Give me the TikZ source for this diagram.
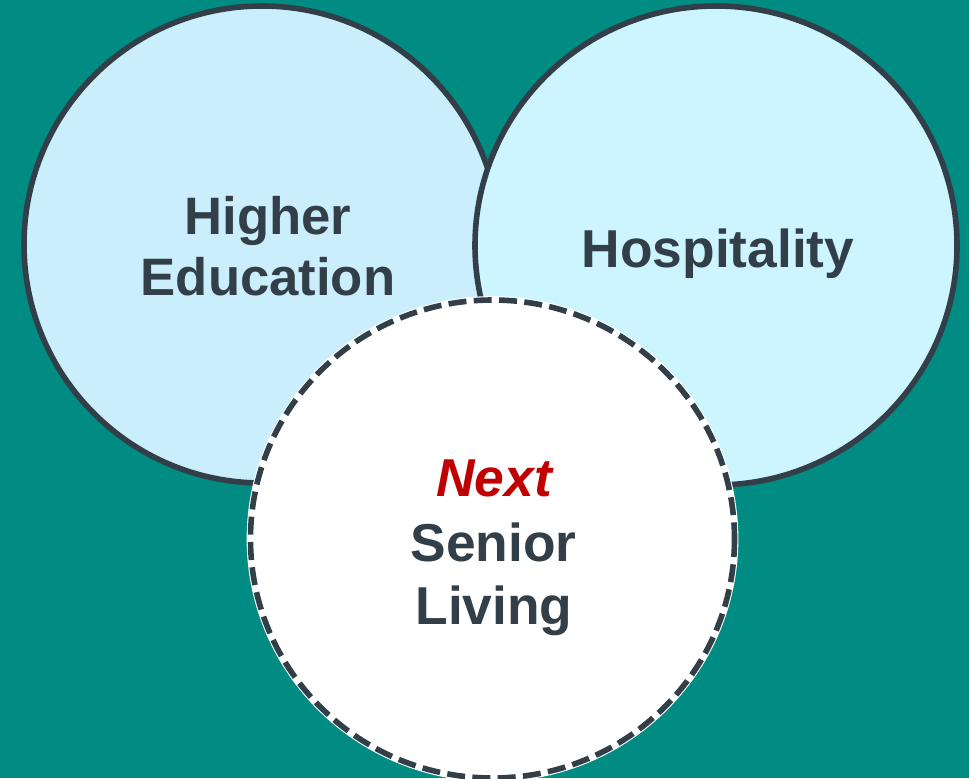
\documentclass[tikz,border=0pt]{standalone}
\usepackage{fontspec}
\setmainfont{Liberation Sans}
\definecolor{bgteal}{HTML}{008C82}
\definecolor{edge}{HTML}{333F48}
\definecolor{leftfill}{HTML}{CAEEFB}
\definecolor{rightfill}{HTML}{CCF5FF}
\definecolor{nextred}{HTML}{C00000}
\begin{document}
\begin{tikzpicture}[x=0.75pt,y=-0.75pt,
  circ/.style={draw=edge,line width=4.2pt},
  lbl/.style={anchor=base,inner sep=0pt,text=edge,font=\fontsize{40}{46}\selectfont\bfseries},
  nextlbl/.style={anchor=base,inner sep=0pt,text=nextred,font=\fontsize{40}{46}\selectfont\bfseries\itshape}]
\fill[bgteal] (0,0) rectangle (969,778);
\useasboundingbox (0,0) rectangle (969,778);
% left circle
\draw[circ,fill=leftfill] (262,244.5) ellipse [x radius=238,y radius=238.5];
% right circle
\draw[circ,fill=rightfill] (716,245.5) ellipse [x radius=241,y radius=239.5];
% bottom dashed circle
\draw[white,fill=white,line width=5.8pt] (492.5,539) ellipse [x radius=242,y radius=239];
\draw[edge,line width=4.2pt,dash pattern=on 13.5pt off 5.5pt] (492.5,539) ellipse [x radius=242,y radius=239];
% labels
\node[lbl,font=\fontsize{39.5}{46}\selectfont\bfseries] (higher) at (268,234) {Higher};
\node[lbl,font=\fontsize{39.5}{46}\selectfont\bfseries] (education) at (268,295) {Education};
\node[lbl] (hosp) at (718,267) {Hospitality};
\node[nextlbl] (next) at (494,496) {Next};
\node[lbl] (senior) at (493.5,561) {Senior};
\node[lbl] (living) at (494,624) {Living};
\end{tikzpicture}
\end{document}
